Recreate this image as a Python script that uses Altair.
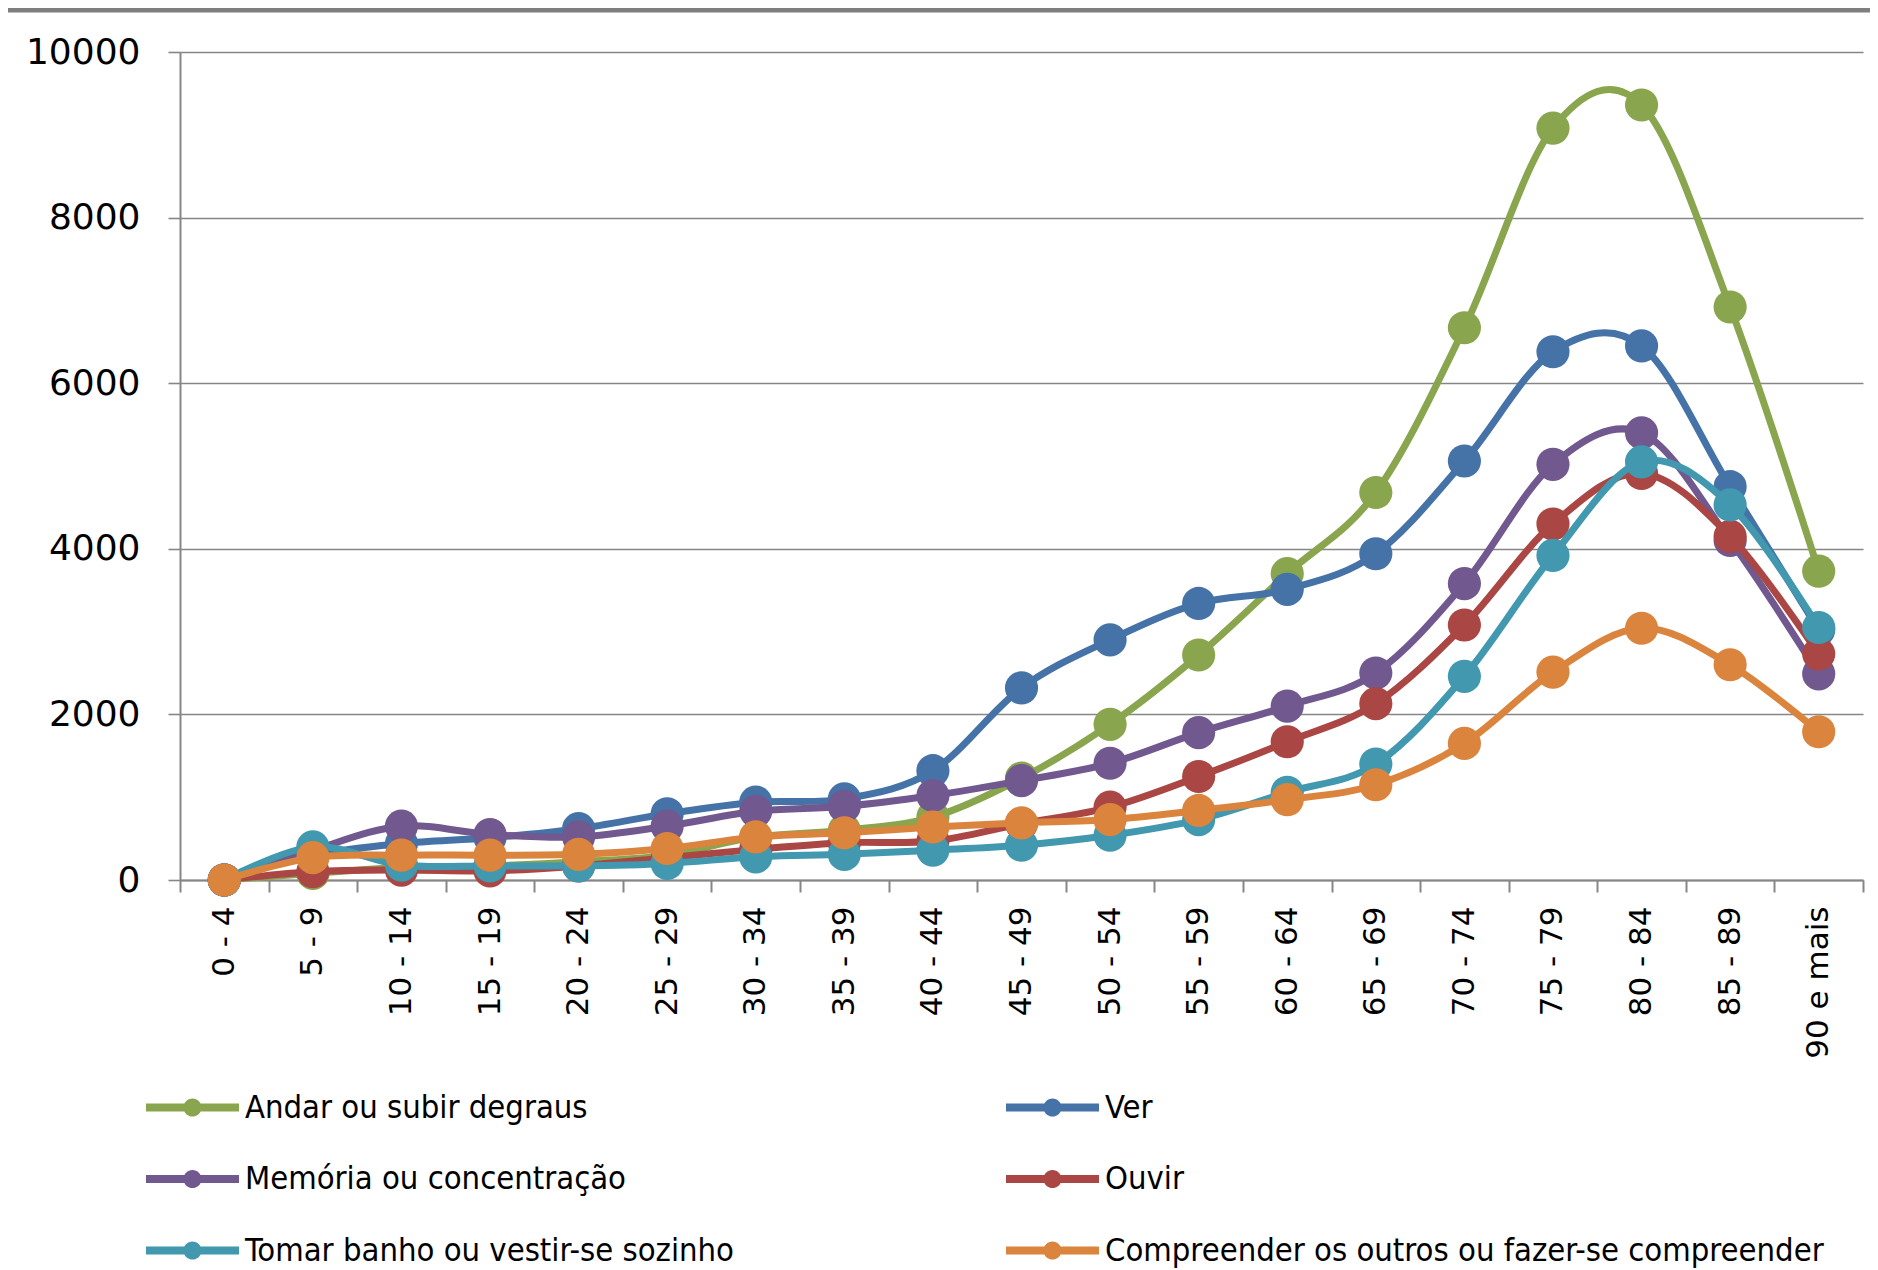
import altair as alt
import pandas as pd

ages = ["0 - 4", "5 - 9", "10 - 14", "15 - 19", "20 - 24", "25 - 29", "30 - 34",
        "35 - 39", "40 - 44", "45 - 49", "50 - 54", "55 - 59", "60 - 64", "65 - 69",
        "70 - 74", "75 - 79", "80 - 84", "85 - 89", "90 e mais"]

series_names = ["Andar ou subir degraus", "Ver", "Memória ou concentração", "Ouvir",
                "Tomar banho ou vestir-se sozinho",
                "Compreender os outros ou fazer-se compreender"]
colors = ["#89A54E", "#4572A7", "#71588F", "#AA4643", "#4198AF", "#DB843D"]

andar = [0, 80, 150, 170, 220, 300, 520, 600, 760, 1230, 1880, 2717, 3700, 4680, 6670, 9080, 9360, 6920, 3730]
ver = [0, 300, 440, 510, 620, 800, 940, 980, 1320, 2320, 2900, 3340, 3510, 3940, 5060, 6380, 6450, 4750, 3020]
memoria = [0, 360, 650, 550, 520, 650, 830, 890, 1020, 1200, 1410, 1780, 2100, 2500, 3580, 5020, 5400, 4100, 2490]
ouvir = [0, 100, 120, 110, 170, 270, 370, 450, 470, 680, 880, 1250, 1670, 2130, 3080, 4300, 4910, 4150, 2730]
tomar = [0, 400, 180, 170, 170, 200, 280, 310, 360, 420, 540, 730, 1060, 1400, 2460, 3920, 5050, 4530, 3050]
compreender = [0, 270, 300, 300, 310, 380, 520, 570, 640, 690, 730, 840, 970, 1150, 1650, 2510, 3040, 2600, 1790]

values = [andar, ver, memoria, ouvir, tomar, compreender]

rows = []
for name, vals in zip(series_names, values):
    for a, v in zip(ages, vals):
        rows.append({"series": name, "age": a, "value": v})
df = pd.DataFrame(rows)

color_scale = alt.Scale(domain=series_names, range=colors)

x_enc = alt.X("age:N", sort=ages, title=None,
              scale=alt.Scale(type="band", paddingInner=0, paddingOuter=0),
              axis=alt.Axis(labelAngle=-90, labelAlign="right", labelBaseline="middle",
                            tickBand="extent", tickSize=12, labelPadding=14,
                            labelFont="DejaVu Sans", labelFontSize=31, labelColor="#000000",
                            domainColor="#868686", tickColor="#868686",
                            domainWidth=2, tickWidth=2, grid=False))
y_enc = alt.Y("value:Q", title=None,
              scale=alt.Scale(domain=[0, 10000], nice=False, zero=True),
              axis=alt.Axis(values=[0, 2000, 4000, 6000, 8000, 10000], grid=True,
                            format="d",
                            gridColor="#868686", gridWidth=1.6, tickSize=12,
                            tickColor="#868686", domainColor="#868686", domainWidth=2,
                            tickWidth=1.6, labelPadding=28, labelFont="DejaVu Sans",
                            labelFontSize=36, labelColor="#000000"))

sym_path = ("M-2,-0.17 L-0.3,-0.17 L-0.3,0.17 L-2,0.17 Z "
            "M0.3,-0.17 L2,-0.17 L2,0.17 L0.3,0.17 Z "
            "M-0.39,0 A0.39,0.39 0 1,1 0.39,0 A0.39,0.39 0 1,1 -0.39,0 Z")

legend = alt.Legend(title=None, orient="none", legendX=-11, legendY=1032, columns=2,
                    direction="horizontal",
                    columnPadding=272, rowPadding=31.5, symbolType=sym_path,
                    symbolSize=2162, symbolStrokeWidth=0, symbolOpacity=1,
                    labelFont="'DejaVu Sans Condensed', 'Liberation Sans Narrow', 'Roboto Condensed', Lato, sans-serif",
                    labelFontSize=32.5,
                    labelOffset=29, labelLimit=2000, labelColor="#000000")

layers = []
top_bar = alt.Chart(pd.DataFrame({"k": [0]})).mark_rule(
    color="#7f7f7f", strokeWidth=5, clip=False
).encode(x=alt.value(-190), x2=alt.value(1700), y=alt.value(-42))
layers.append(top_bar)

for name in series_names:
    base = alt.Chart(df).transform_filter(alt.datum.series == name)
    line = base.mark_line(strokeWidth=7, interpolate="cardinal", tension=0).encode(
        x=x_enc, y=y_enc,
        color=alt.Color("series:N", scale=color_scale, legend=legend))
    pts = base.mark_circle(size=1100, opacity=1).encode(
        x=x_enc, y=y_enc,
        color=alt.Color("series:N", scale=color_scale, legend=legend))
    layers.append(line)
    layers.append(pts)

chart = alt.layer(*layers).properties(
    width=1683, height=828,
    autosize=alt.AutoSizeParams(type="none"),
    padding={"left": 172, "top": 44, "right": 7, "bottom": 390},
    background="white"
).configure_view(stroke=None)

chart.save("out.html", embed_options={"renderer": "svg", "actions": False})
